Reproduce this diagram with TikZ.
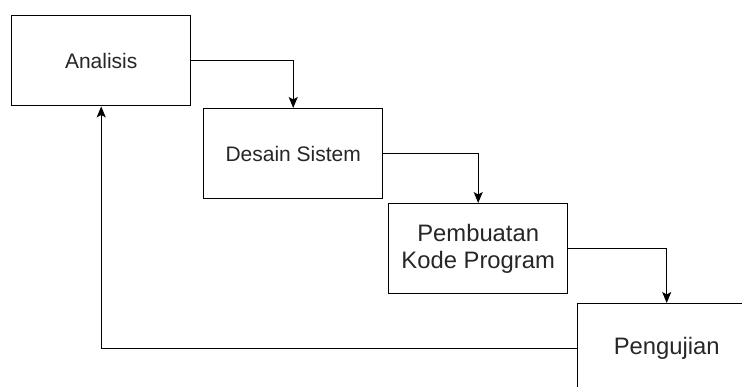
\documentclass[tikz,border=0pt]{standalone}
\usepackage{fontspec}
\setmainfont{Liberation Sans}
\usetikzlibrary{arrows.meta}
\begin{document}
\begin{tikzpicture}[x=1pt,y=-1pt,
  box/.style={draw=black, line width=1.4pt, minimum width=179pt, minimum height=90pt,
    inner sep=0pt, align=center, anchor=north west, text=black!85},
  conn/.style={line width=1.3pt, draw=black, -{Stealth[length=11pt,width=9pt,inset=2.5pt]}}]
\useasboundingbox (0,0) rectangle (742,386);
\clip (0,0) rectangle (742,386);
\node[box, font=\fontsize{21}{25}\selectfont] (a) at (11,15) {Analisis};
\node[box, font=\fontsize{21}{25}\selectfont] (b) at (203,108) {Desain Sistem};
\node[box, font=\fontsize{23.8}{27}\selectfont] (c) at (388,203) {Pembuatan\\Kode Program};
\node[box, minimum width=178pt, font=\fontsize{23.8}{27}\selectfont] (d) at (577,303) {Pengujian};
\draw[conn] (a.east) -| (b.north);
\draw[conn] (b.east) -| (c.north);
\draw[conn] (c.east) -| (d.north);
\draw[conn] (d.west) -| (a.south);
\end{tikzpicture}
\end{document}
